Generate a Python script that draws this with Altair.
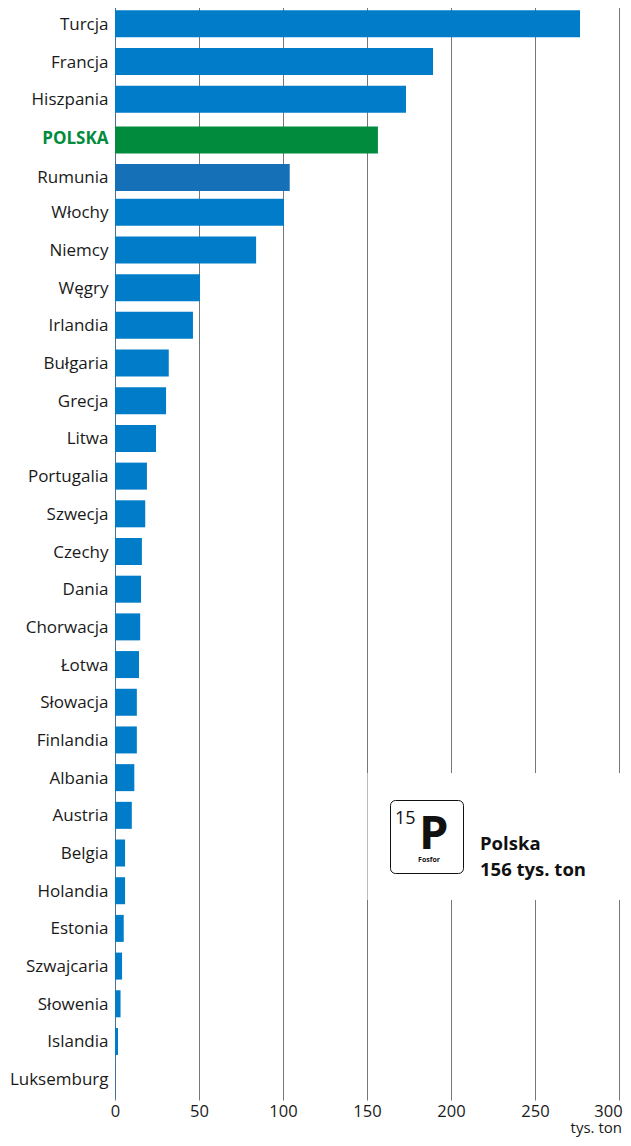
import altair as alt
import pandas as pd

countries = ["Turcja","Francja","Hiszpania","POLSKA","Rumunia","Włochy","Niemcy","Węgry","Irlandia","Bułgaria","Grecja","Litwa","Portugalia","Szwecja","Czechy","Dania","Chorwacja","Łotwa","Słowacja","Finlandia","Albania","Austria","Belgia","Holandia","Estonia","Szwajcaria","Słowenia","Islandia","Luksemburg"]
values = [276.8,189.3,173.2,156.5,104,100.6,84,50.6,46.4,32,30.4,24.4,19,18,16,15.5,15,14.3,13,13,11.5,10,6,6,5.2,4.2,3.3,1.8,0.1]
colors = ["#007cc8"]*29
colors[3] = "#008c3c"
colors[4] = "#1570b8"

FONT = "Open Sans"
df = pd.DataFrame({"country": countries, "value": values, "color": colors})

y = alt.Y("country:N", sort=countries, title=None,
          scale=alt.Scale(domain=countries, range=[-3, 1090], paddingInner=0.27, paddingOuter=0.135),
          axis=alt.Axis(domainColor="#4a6f94", ticks=False, grid=False, labelPadding=7, labelFontSize=17, labelFont=FONT,
                        labelColor=alt.expr("datum.value=='POLSKA' ? '#008c3c' : '#1a1a1a'"),
                        labelFontWeight=alt.expr("datum.value=='POLSKA' ? 'bold' : 'normal'"),
                        labelOffset=alt.expr("datum.value=='POLSKA' ? 2 : datum.value=='Rumunia' ? 3 : 1"),
                        labelLimit=120))
x = alt.X("value:Q", title=None, scale=alt.Scale(domain=[0, 300], nice=False),
          axis=alt.Axis(values=[0,50,100,150,200,250,300], grid=True, gridColor="#777777", gridWidth=1, domain=False,
                        ticks=False, labelPadding=6, labelFontSize=16.5, labelFont=FONT, labelColor="#1a1a1a",
                        labelOverlap=False, labelBound=False, labelFlush=False,
                        labelOffset=alt.expr("datum.value==300 ? -11 : 0")))

bars = alt.Chart(df).mark_bar(
    size=27, yOffset=alt.expr("datum.country=='POLSKA' || datum.country=='Rumunia' ? 3 : 0")
).encode(x=x, y=y, color=alt.Color("color:N", scale=None))

def note(text, px, py, size, weight="normal", align="left", color="#111111"):
    return alt.Chart(pd.DataFrame({"t": [text]})).mark_text(
        font=FONT, fontSize=size, fontWeight=weight, align=align, baseline="alphabetic", color=color
    ).encode(text="t:N", x=alt.value(px - 115), y=alt.value(py - 8))

white = alt.Chart(pd.DataFrame({"a": [1]})).mark_rect(color="white").encode(
    x=alt.value(367 - 115 + 0.5), x2=alt.value(623 - 115), y=alt.value(773 - 8), y2=alt.value(900 - 8))
box = alt.Chart(pd.DataFrame({"a": [1]})).mark_rect(fill="white", stroke="#111111", strokeWidth=1, cornerRadius=5).encode(
    x=alt.value(390.5 - 115), x2=alt.value(463.5 - 115), y=alt.value(800.5 - 8), y2=alt.value(873.5 - 8))

chart = alt.layer(
    bars, white, box,
    note("15", 395, 824, 18),
    note("P", 419, 849, 47, "bold"),
    note("Fosfor", 429, 862, 7, "bold", "center"),
    note("Polska", 480, 850, 18.5, "bold"),
    note("156 tys. ton", 480, 876, 18.5, "bold"),
    note("tys. ton", 622, 1133, 15, "normal", "right", "#1a1a1a"),
).properties(
    width=504, height=1089, autosize=alt.AutoSizeParams(type="none"),
    padding={"left": 107, "top": 0, "right": 4, "bottom": 40},
).configure_view(stroke=None)

chart.save("out.html", embed_options={"renderer": "svg", "actions": False})
